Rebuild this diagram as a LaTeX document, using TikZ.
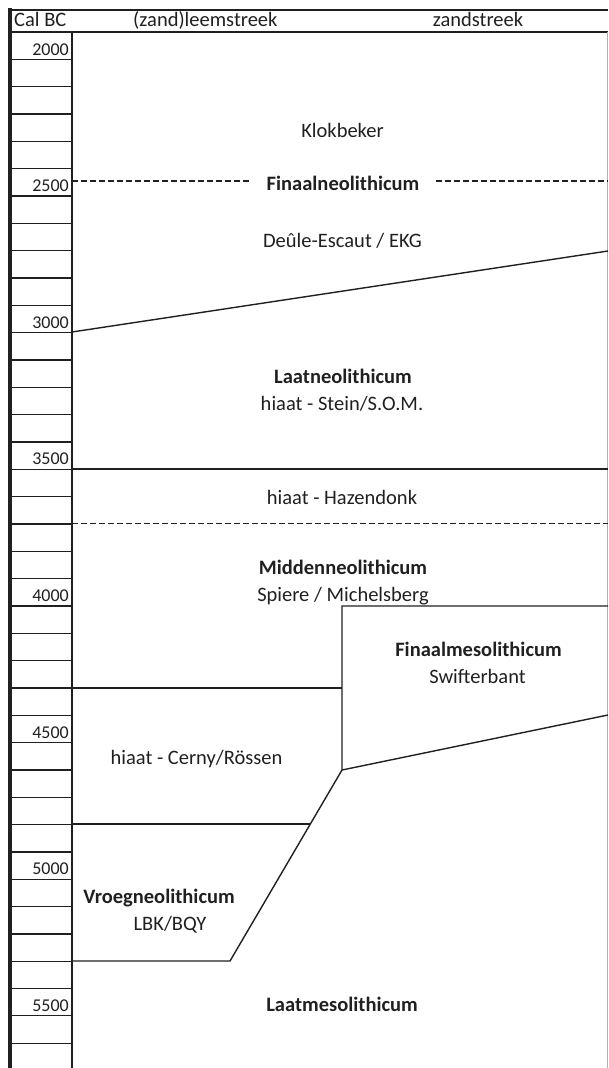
\documentclass[tikz,border=0pt]{standalone}
\usepackage{fontspec}
\setmainfont{Carlito}
\usetikzlibrary{positioning}
\definecolor{Ink}{HTML}{202020}

\begin{document}
\begin{tikzpicture}[x=1pt,y=-1pt,
    lbl/.style={font=\fontsize{20.5}{24}\selectfont,text=Ink,inner sep=0pt,anchor=base},
    per/.style={lbl,font=\fontsize{20.5}{24}\selectfont\bfseries},
    yr/.style={font=\fontsize{18}{22}\selectfont,text=Ink,inner sep=0pt,anchor=base east},
    tick/.style={draw=Ink,line width=1.2pt},
    bound/.style={draw=Ink,line width=1.4pt},
    gap/.style={bound,dash pattern=on 5.5pt off 3.5pt,line width=1.3pt}]
    \useasboundingbox (0,0) rectangle (608,1068);
    % frame and header
    \draw[draw=Ink,line width=3.5pt] (10,8) -- (10,1068);
    \draw[draw=Ink,line width=2pt] (8,10) -- (608,10);
    \draw[draw=Ink,line width=1.8pt] (10,32) -- (608,32);
    \draw[draw=Ink!35,line width=1pt] (607.5,32) -- (607.5,1068);
    \draw[tick] (72,32) -- (72,1068);
    \node[lbl,anchor=base west] (calbc) at (14,27) {Cal BC};
    \node[lbl,anchor=base west] (leem) at (133,27) {(zand)leemstreek};
    \node[lbl] (zand) at (478,26.5) {zandstreek};
    % time scale
    \foreach \i in {0,...,37}
      \draw[tick] (10,32+\i*27.33) -- (72,32+\i*27.33);
    \foreach \i/\yr in {0/2000,5/2500,10/3000,15/3500,20/4000,25/4500,30/5000,35/5500}
      \node[yr] (y\yr) at (69,{32+(\i+1)*27.33-4.3}) {\yr};
    % boundaries
    \coordinate (fmTL) at (342,606);
    \coordinate (fmBL) at (342,770);
    \coordinate (vnBR) at (230,961);
    \coordinate (crBR) at (310.2,824);
    \node[per] (finaalneo) at (343,190) {Finaalneolithicum};
    \draw[gap] (72,181) -- (250,181);
    \draw[gap] (436,181) -- (608,181);
    \draw[bound] (72,332) -- (608,251);
    \draw[bound] (72,469) -- (608,469);
    \draw[gap] (72,523.5) -- (608,523.5);
    \draw[bound] (608,606) -- (fmTL) -- (fmBL) -- (608,715);
    \draw[bound] (72,688) -- (fmTL |- 0,688);
    \draw[bound] (fmBL) -- (vnBR) -- (72,961);
    \draw[bound] (72,824) -- (crBR);
    % periods and cultures
    \node[lbl] (klok) at (342.5,137) {Klokbeker};
    \node[lbl] (deule) at (342.5,247) {Deûle-Escaut / EKG};
    \node[per] (laatneo) at (343,383) {Laatneolithicum};
    \node[lbl] (stein) at (342,410) {hiaat - Stein/S.O.M.};
    \node[lbl] (hazen) at (342,504) {hiaat - Hazendonk};
    \node[per] (midneo) at (343,574) {Middenneolithicum};
    \node[lbl] (spiere) at (343,601) {Spiere / Michelsberg};
    \node[per] (finmeso) at (478.5,656) {Finaalmesolithicum};
    \node[lbl] (swift) at (477.5,683) {Swifterbant};
    \node[lbl] (cerny) at (196.5,764) {hiaat - Cerny/Rössen};
    \node[per] (vroeg) at (159,903) {Vroegneolithicum};
    \node[lbl] (lbk) at (170,930) {LBK/BQY};
    \node[per] (laatmeso) at (342,1011) {Laatmesolithicum};
\end{tikzpicture}
\end{document}
